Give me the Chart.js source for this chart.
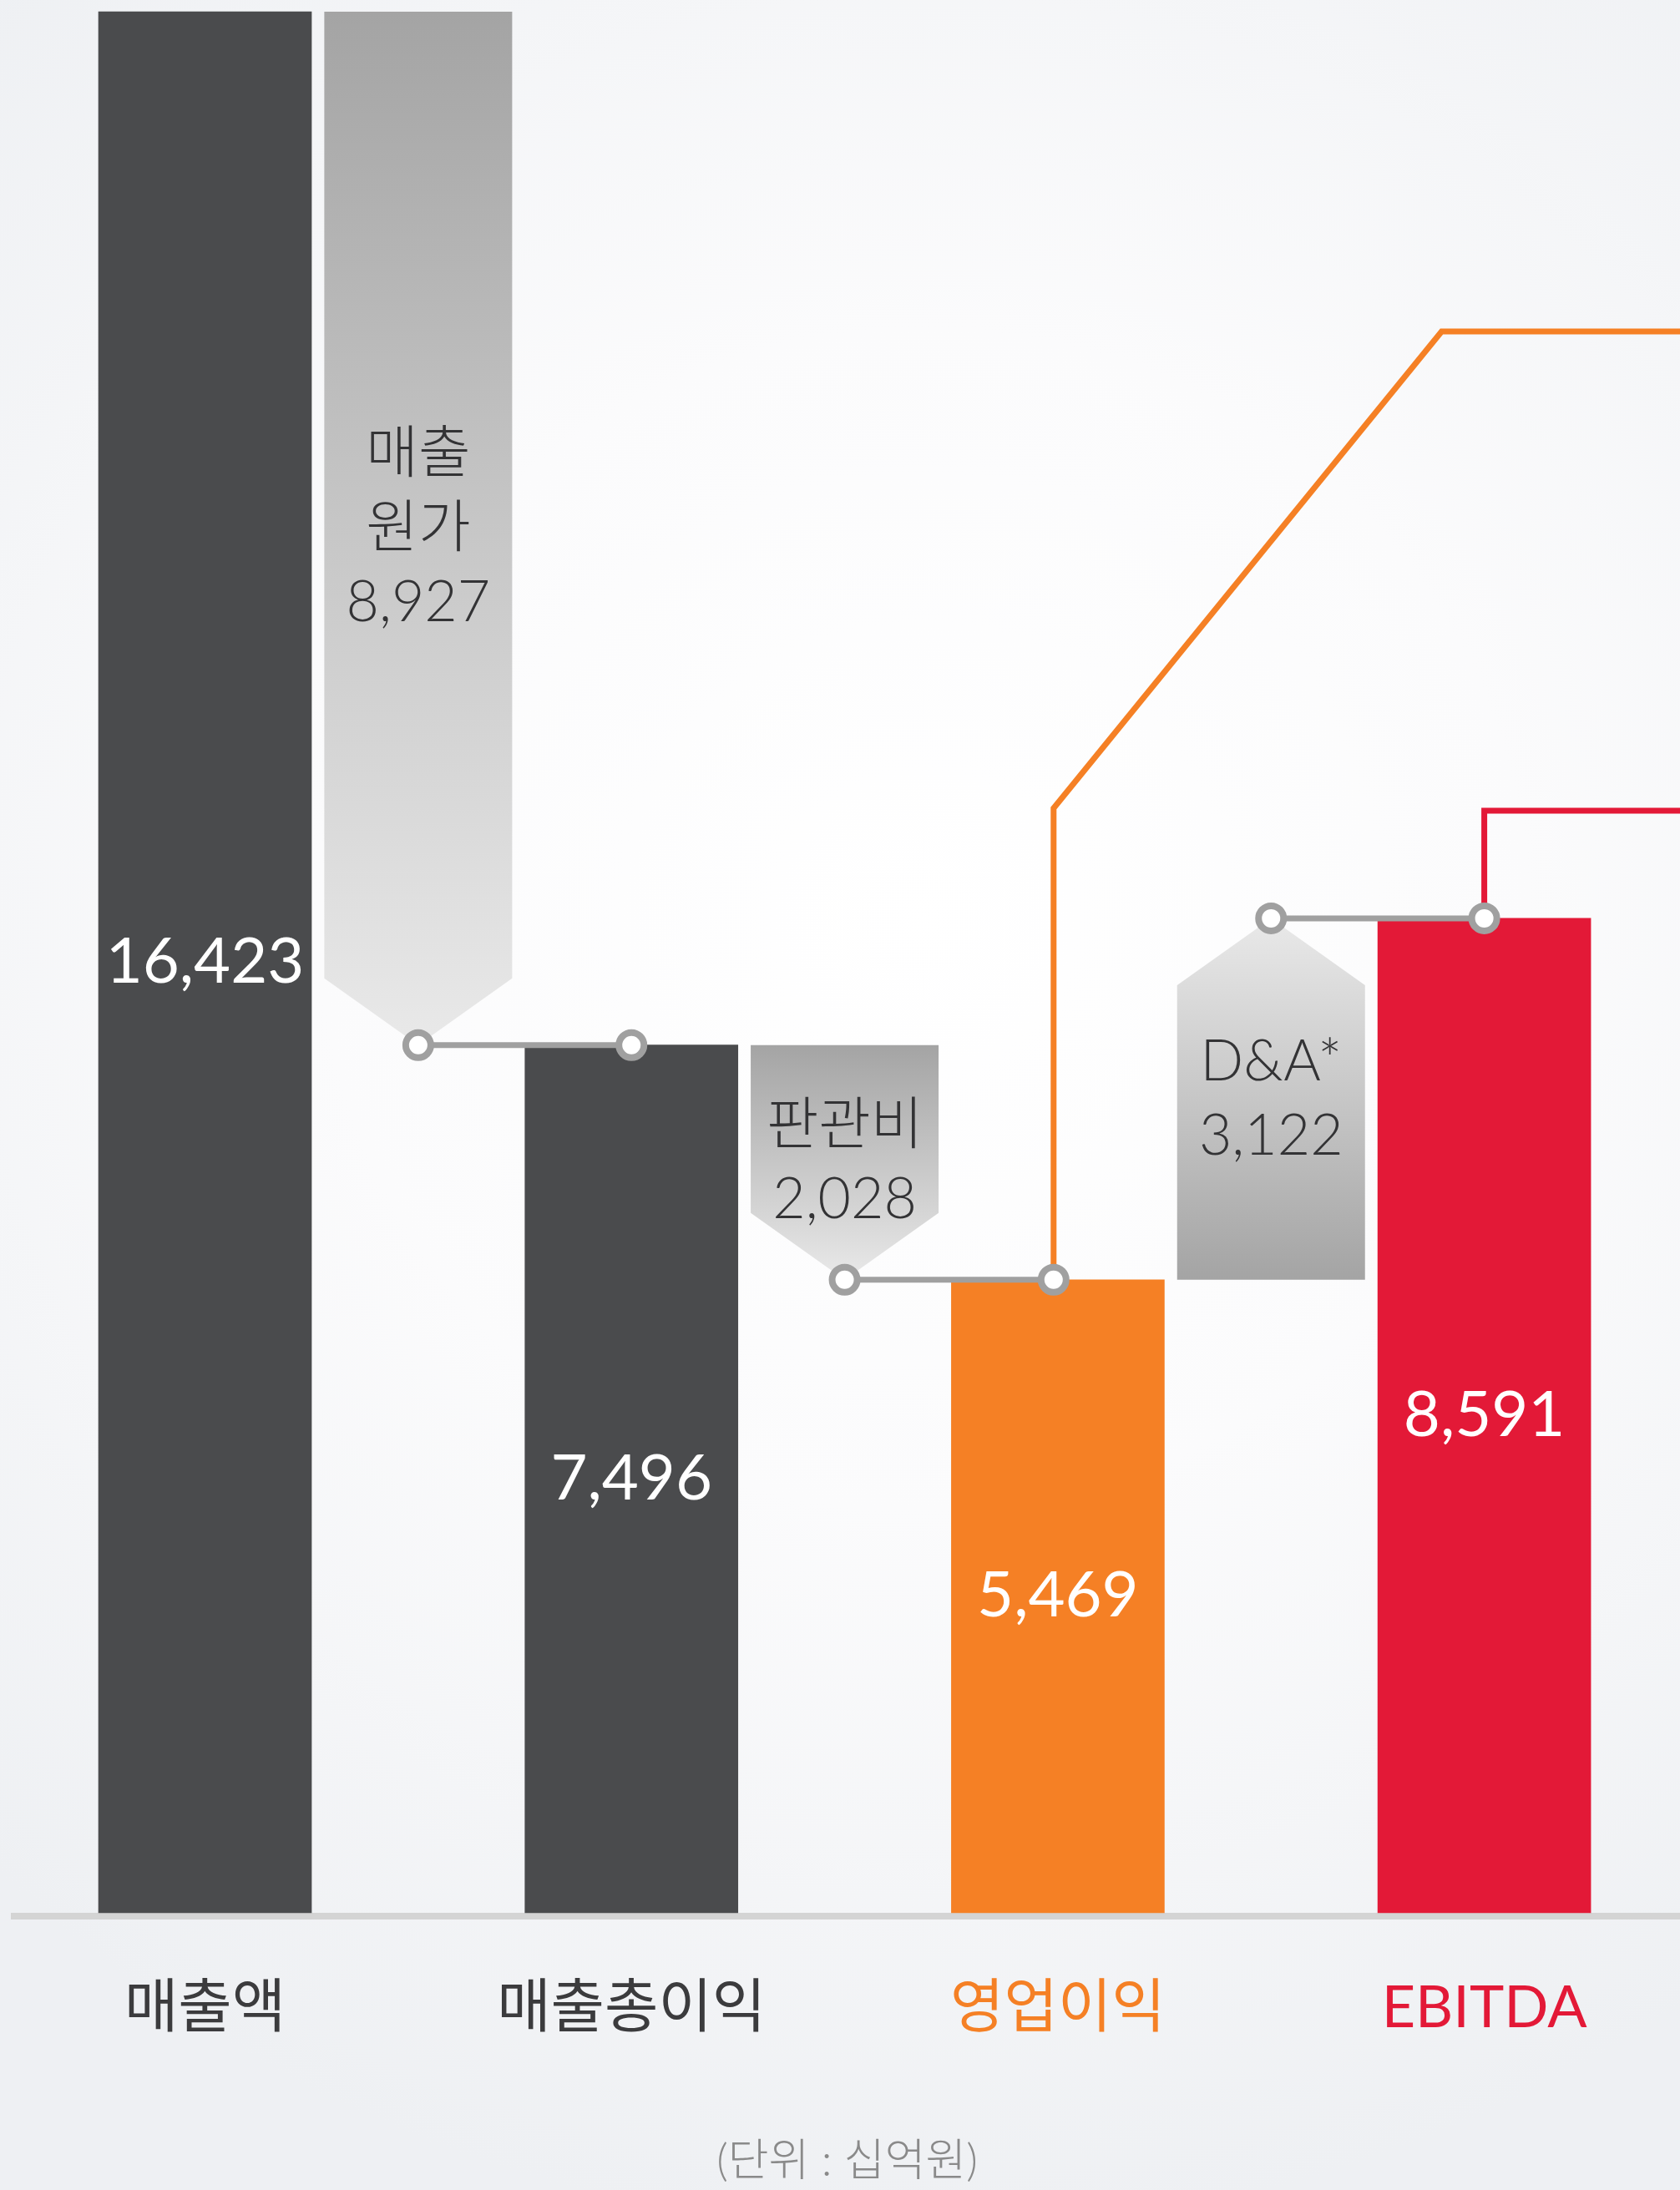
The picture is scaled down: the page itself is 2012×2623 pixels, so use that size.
<!DOCTYPE html>
<html lang="ko">
<head>
<meta charset="utf-8">
<title>매출액 / 매출총이익 / 영업이익 / EBITDA</title>
<script src="https://cdn.jsdelivr.net/npm/chart.js@4.4.1/dist/chart.umd.min.js"></script>
<style>
    html, body { margin: 0; padding: 0; }
    body {
        width: 2012px;
        height: 2623px;
        overflow: hidden;
        background: radial-gradient(ellipse 80% 60% at 55% 42%, #ffffff 0%, #fbfbfc 45%, #eef0f3 100%);
    }
    #wrap { position: relative; width: 2012px; height: 2623px; }
</style>
</head>
<body>
<div id="wrap"><canvas id="chart"></canvas></div>
<script>
// totals (십억원)
const categories = ['매출액', '매출총이익', '영업이익', 'EBITDA'];
const totals = [16423, 7496, 5469, 8591];
const totalColors = ['#4a4b4d', '#4a4b4d', '#f58025', '#e31937'];
const labelColors = ['#3b3b3d', '#3b3b3d', '#f58025', '#e31937'];

// steps between the totals
const stepNames = [['매출', '원가'], ['판관비'], ['D&A*']];
const stepValues = [8927, 2028, 3122];
const stepPos = [0.5, 1.5, 2.5];

// leader lines running off to the right
const opLine = [{ x: 1.99, y: 5469 }, { x: 1.99, y: 9542 }, { x: 2.9, y: 13660 }, { x: 3.6, y: 13660 }];
const ebitdaLine = [{ x: 3, y: 8591 }, { x: 3, y: 9520 }, { x: 3.6, y: 9520 }];

const unitLabel = '(단위 : 십억원)';

const FONT = 'Lato, "Noto Sans CJK KR", "Noto Sans", sans-serif';
const fmt = v => v.toLocaleString('en-US');

// floating step bars: [from, to]
const stepData = stepPos.map((x, i) => ({ x: x, y: [totals[i + 1], totals[i]] }));

// gray connectors with rings at both ends
const connectorX = [1, 1.99, 3];
const connectors = stepPos.map((x, i) => ({
    type: 'line',
    data: [{ x: x, y: totals[i + 1] }, { x: connectorX[i], y: totals[i + 1] }],
    borderColor: '#a0a0a0',
    borderWidth: 7,
    pointRadius: 15,
    pointBorderWidth: 8,
    pointBorderColor: '#a0a0a0',
    pointBackgroundColor: '#ffffff',
    order: 1
}));

const stepArrows = {
    id: 'stepArrows',
    beforeDatasetsDraw(chart) {
        const ctx = chart.ctx;
        const yScale = chart.scales.y;
        const meta = chart.getDatasetMeta(1);
        meta.data.forEach((bar, i) => {
            const yFrom = yScale.getPixelForValue(totals[i]);
            const yTo = yScale.getPixelForValue(totals[i + 1]);
            const dir = yTo > yFrom ? 1 : -1;
            const shoulder = yTo - dir * 80;
            const l = bar.x - bar.width / 2;
            const r = bar.x + bar.width / 2;
            const g = ctx.createLinearGradient(0, yFrom, 0, yTo);
            g.addColorStop(0, '#a4a4a4');
            g.addColorStop(1, '#e9e9e9');
            ctx.save();
            ctx.fillStyle = g;
            ctx.beginPath();
            ctx.moveTo(l, yFrom);
            ctx.lineTo(r, yFrom);
            ctx.lineTo(r, shoulder);
            ctx.lineTo(bar.x, yTo);
            ctx.lineTo(l, shoulder);
            ctx.closePath();
            ctx.fill();

            const lines = stepNames[i].concat([fmt(stepValues[i])]);
            const cy = (yFrom + yTo) / 2;
            const lh = 89;
            ctx.fillStyle = '#333335';
            ctx.font = '300 68px ' + FONT;
            ctx.textAlign = 'center';
            ctx.textBaseline = 'middle';
            lines.forEach((t, k) => {
                ctx.fillText(t, bar.x, cy - (lines.length - 1) * lh / 2 + k * lh);
            });
            ctx.restore();
        });
    },
    afterDatasetsDraw(chart) {
        const ctx = chart.ctx;
        const meta = chart.getDatasetMeta(0);
        ctx.save();
        ctx.fillStyle = '#ffffff';
        ctx.font = '400 76px ' + FONT;
        ctx.textAlign = 'center';
        ctx.textBaseline = 'middle';
        meta.data.forEach((bar, i) => {
            const c = bar.getCenterPoint();
            ctx.fillText(fmt(totals[i]), c.x, c.y);
        });
        ctx.restore();
    }
};

new Chart(document.getElementById('chart'), {
    type: 'bar',
    data: {
        datasets: [
            {
                data: totals.map((v, i) => ({ x: i, y: v })),
                backgroundColor: totalColors,
                barThickness: 255,
                grouped: false,
                order: 3
            },
            {
                data: stepData,
                backgroundColor: 'rgba(0,0,0,0)',
                barThickness: 225,
                grouped: false,
                order: 3
            },
            {
                type: 'line',
                data: opLine,
                borderColor: '#f58025',
                borderWidth: 7,
                pointRadius: 0,
                order: 2
            },
            {
                type: 'line',
                data: ebitdaLine,
                borderColor: '#e31937',
                borderWidth: 7,
                pointRadius: 0,
                order: 2
            },
            ...connectors
        ]
    },
    options: {
        responsive: true,
        maintainAspectRatio: false,
        animation: false,
        events: [],
        layout: { autoPadding: false, padding: { left: 17, right: 0, top: 0, bottom: 0 } },
        plugins: {
            legend: { display: false },
            tooltip: { enabled: false }
        },
        scales: {
            x: {
                type: 'linear',
                offset: false,
                bounds: 'data',
                min: -0.4475,
                max: 3.459,
                afterBuildTicks: axis => {
                    axis.ticks = categories.map((c, i) => ({ value: i }));
                },
                afterFit: axis => {
                    axis.height = 328;
                    axis.paddingLeft = 0;
                    axis.paddingRight = 0;
                },
                grid: { color: 'rgba(0,0,0,0)', drawTicks: false, offset: false },
                border: { display: true, color: '#d4d4d4', width: 8 },
                ticks: {
                    autoSkip: false,
                    maxRotation: 0,
                    padding: 68,
                    callback: v => categories[v] ?? '',
                    color: c => labelColors[c.index],
                    font: { family: FONT, size: 70, weight: '400' }
                },
                title: {
                    display: true,
                    text: unitLabel,
                    color: '#8a8a8a',
                    font: { family: FONT, size: 53, weight: '300' },
                    padding: { top: 0, bottom: 2 }
                }
            },
            y: {
                display: false,
                min: -28.85,
                max: 16524
            }
        }
    },
    plugins: [stepArrows]
});
</script>
</body>
</html>
